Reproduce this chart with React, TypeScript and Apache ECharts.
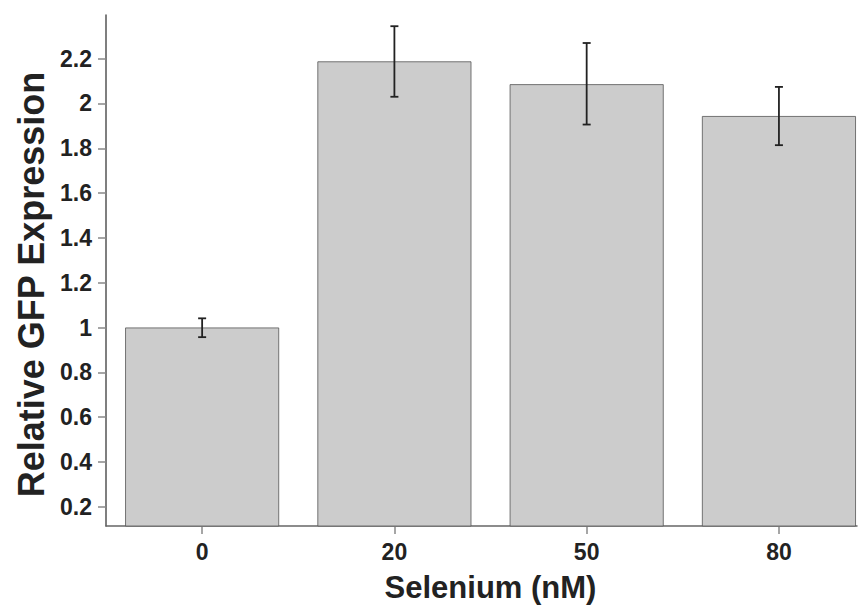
import React, { useEffect, useRef } from "react";
import * as echarts from "echarts";

const categories = ["0", "20", "50", "80"];
const values = [1.0, 2.188, 2.086, 1.944];
const errLow = [0.957, 2.03, 1.906, 1.814];
const errHigh = [1.041, 2.345, 2.27, 2.074];
const yTicks = [0.2, 0.4, 0.6, 0.8, 1, 1.2, 1.4, 1.6, 1.8, 2, 2.2];
const xTicks = [0, 1, 2, 3];

export default function App() {
  const ref = useRef<HTMLDivElement>(null);
  useEffect(() => {
    if (!ref.current) return;
    const chart = echarts.init(ref.current, null, { renderer: "svg" });
    const font = "'Liberation Sans', Arial, sans-serif";
    chart.setOption({
      animation: false,
      backgroundColor: "#ffffff",
      grid: { left: 106, right: 7, top: 15, bottom: 79 },
      xAxis: {
        type: "value",
        min: -0.5,
        max: 3.406,
        name: "Selenium (nM)",
        nameLocation: "middle",
        nameGap: 46,
        nameTextStyle: { fontFamily: font, fontWeight: "bold", fontSize: 31, color: "#222", padding: [0, 0, 0, 18] },
        axisLine: { show: true, onZero: false, lineStyle: { color: "#666", width: 1.5 } },
        axisTick: { show: true, length: 8, customValues: xTicks, lineStyle: { color: "#888", width: 1.5 } },
        axisLabel: {
          customValues: xTicks,
          margin: 14,
          fontFamily: font,
          fontWeight: "bold",
          fontSize: 23,
          color: "#222",
          formatter: (v: number) => categories[Math.round(v)] ?? "",
        },
        splitLine: { show: false },
      },
      yAxis: {
        type: "value",
        min: 0.114,
        max: 2.395,
        name: "Relative GFP Expression",
        nameLocation: "middle",
        nameGap: 55,
        nameTextStyle: { fontFamily: font, fontWeight: "bold", fontSize: 36, color: "#222", padding: [0, 28, 0, 0] },
        axisLine: { show: true, onZero: false, lineStyle: { color: "#555", width: 1.5 } },
        axisTick: { show: true, length: 8, customValues: yTicks, lineStyle: { color: "#888", width: 1.5 } },
        axisLabel: {
          customValues: yTicks,
          margin: 14,
          fontFamily: font,
          fontWeight: "bold",
          fontSize: 23,
          color: "#222",
          formatter: (v: number) => String(Math.round(v * 10) / 10),
        },
        splitLine: { show: false },
      },
      series: [
        {
          type: "bar",
          data: values.map((v, i) => [i, v]),
          barWidth: 154,
          itemStyle: { color: "#cccccc", borderColor: "#555", borderWidth: 0.8 },
          clip: true,
        },
        {
          type: "custom",
          clip: false,
          data: values.map((_, i) => [i, errLow[i], errHigh[i]]),
          renderItem: (params: any, api: any) => {
            const x = api.value(0);
            const lo = api.coord([x, api.value(1)]);
            const hi = api.coord([x, api.value(2)]);
            const cap = 4;
            const style = { stroke: "#222", lineWidth: 1.8, fill: "none" };
            return {
              type: "group",
              children: [
                { type: "line", shape: { x1: lo[0], y1: lo[1], x2: hi[0], y2: hi[1] }, style },
                { type: "line", shape: { x1: lo[0] - cap, y1: lo[1], x2: lo[0] + cap, y2: lo[1] }, style },
                { type: "line", shape: { x1: hi[0] - cap, y1: hi[1], x2: hi[0] + cap, y2: hi[1] }, style },
              ],
            };
          },
          z: 10,
        },
      ],
    });
    return () => chart.dispose();
  }, []);
  return <div ref={ref} style={{ position: "fixed", left: 0, top: 0, width: 864, height: 608 }} />;
}
